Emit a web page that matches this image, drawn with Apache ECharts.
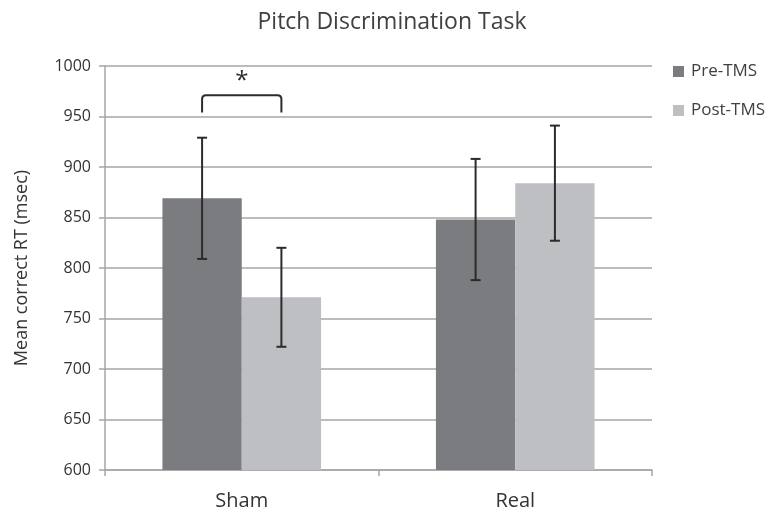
<!DOCTYPE html>
<html><head><meta charset="utf-8">
<script src="https://cdn.jsdelivr.net/npm/echarts@6/dist/echarts.min.js"></script>
<style>html,body{margin:0;padding:0;background:#fff}#c{width:772px;height:515px}</style>
</head><body><div id="c"></div>
<script>
const categories = ['Sham', 'Real'];
const seriesNames = ['Pre-TMS', 'Post-TMS'];
const preValues = [869, 848];
const postValues = [771, 884];
const preErr = [60, 60];
const postErr = [49, 57];
const bracket = {category: 0, top: 971, bottom: 954, label: '*'};
const yMin = 600, yMax = 1000, yStep = 50;

const FONT = 'Open Sans';
const GAP = 0.42; // barCategoryGap fraction
const chart = echarts.init(document.getElementById('c'));

function barOffset(api, which) {
  const band = api.size([1, 0])[0];
  const bw = band * (1 - GAP) / 2;
  return (which === 0 ? -bw / 2 : bw / 2);
}

function errItem(which, vals, errs) {
  return function (params, api) {
    const i = api.value(0);
    const off = barOffset(api, which);
    const top = api.coord([i, vals[i] + errs[i]]);
    const bot = api.coord([i, vals[i] - errs[i]]);
    const x = top[0] + off;
    const cap = 5;
    const st = {stroke: '#2b2b2b', lineWidth: 2};
    return {type: 'group', children: [
      {type: 'line', shape: {x1: x, y1: top[1], x2: x, y2: bot[1]}, style: st},
      {type: 'line', shape: {x1: x - cap, y1: top[1], x2: x + cap, y2: top[1]}, style: st},
      {type: 'line', shape: {x1: x - cap, y1: bot[1], x2: x + cap, y2: bot[1]}, style: st}
    ]};
  };
}

const option = {
  animation: false,
  backgroundColor: '#fff',
  textStyle: {fontFamily: FONT},
  title: {text: 'Pitch Discrimination Task', left: 387, textAlign: 'center', top: 6,
    textStyle: {fontFamily: FONT, fontSize: 23, fontWeight: 'normal', color: '#404040'}},
  legend: {orient: 'vertical', left: 668, top: 58, itemGap: 22, itemWidth: 11, itemHeight: 11,
    icon: 'rect', data: seriesNames,
    textStyle: {fontFamily: FONT, fontSize: 17, color: '#404040', padding: [0, 0, 0, 2]}},
  grid: {left: 105, right: 120, top: 66, bottom: 45},
  xAxis: {type: 'category', data: categories,
    axisLine: {lineStyle: {color: '#a6a6a6', width: 1.5}},
    axisTick: {show: true, length: 6, lineStyle: {color: '#a6a6a6', width: 1.5}},
    axisLabel: {fontFamily: FONT, fontSize: 20, color: '#333', margin: 21}},
  yAxis: {type: 'value', min: yMin, max: yMax, interval: yStep,
    name: 'Mean correct RT (msec)', nameLocation: 'middle', nameGap: 74, nameRotate: 90,
    nameTextStyle: {fontFamily: FONT, fontSize: 18, color: '#333'},
    axisLine: {show: true, lineStyle: {color: '#a6a6a6', width: 1.5}},
    axisTick: {show: true, length: 6, lineStyle: {color: '#a6a6a6', width: 1.5}},
    axisLabel: {fontFamily: FONT, fontSize: 16, color: '#333', margin: 14, formatter: v => String(v)},
    splitLine: {lineStyle: {color: '#a6a6a6', width: 1.5}}},
  series: [
    {name: seriesNames[0], type: 'bar', data: preValues, barGap: '0%', barCategoryGap: (GAP * 100) + '%',
      itemStyle: {color: '#7b7c80'}},
    {name: seriesNames[1], type: 'bar', data: postValues, barGap: '0%', barCategoryGap: (GAP * 100) + '%',
      itemStyle: {color: '#bebfc3'}},
    {type: 'custom', data: categories.map((c, i) => [i]), renderItem: errItem(0, preValues, preErr), z: 5, silent: true},
    {type: 'custom', data: categories.map((c, i) => [i]), renderItem: errItem(1, postValues, postErr), z: 5, silent: true},
    {type: 'custom', data: [[bracket.category]], z: 6, silent: true,
      renderItem: function (params, api) {
        const i = api.value(0);
        const a = api.coord([i, bracket.top]);
        const b = api.coord([i, bracket.bottom]);
        const x1 = a[0] + barOffset(api, 0), x2 = a[0] + barOffset(api, 1);
        const r = 4;
        return {type: 'group', children: [
          {type: 'path', shape: {pathData:
            `M${x1} ${b[1]} L${x1} ${a[1] + r} Q${x1} ${a[1]} ${x1 + r} ${a[1]} L${x2 - r} ${a[1]} Q${x2} ${a[1]} ${x2} ${a[1] + r} L${x2} ${b[1]}`},
            style: {stroke: '#2b2b2b', lineWidth: 2, fill: null}},
          {type: 'text', x: (x1 + x2) / 2, y: a[1] - 2, style: {text: bracket.label, fontSize: 24,
            fontFamily: FONT, fill: '#2b2b2b', align: 'center', verticalAlign: 'bottom'}}
        ]};
      }}
  ]
};
chart.setOption(option);
</script></body></html>
